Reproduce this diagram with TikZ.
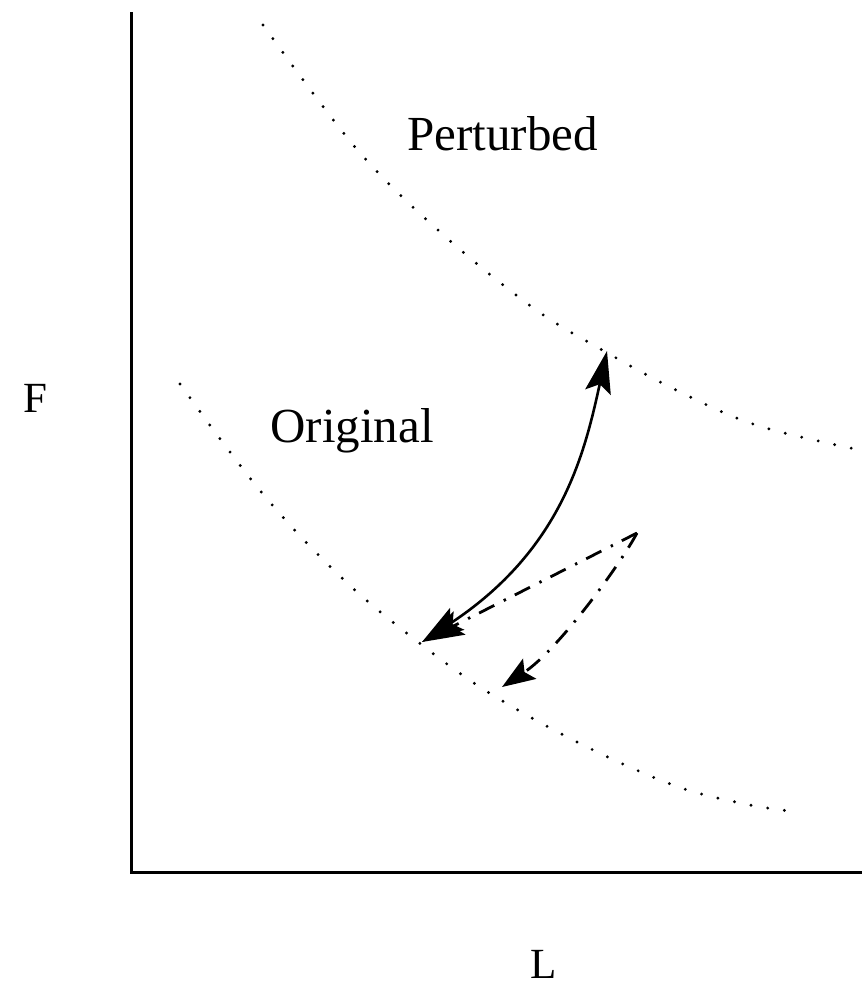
\documentclass[tikz,border=0pt]{standalone}
\usepackage{fontspec}
\setmainfont{Liberation Serif}
\usetikzlibrary{arrows.meta}
\tikzset{
  axisline/.style={line width=1.5pt, line join=miter},
  curvedots/.style={line width=1.6pt, line cap=round, dash pattern=on 0pt off 8.45pt},
  solidarrow/.style={line width=1.3pt},
  dashdotline/.style={line width=1.4pt, dash pattern=on 8.5pt off 5pt on 1.2pt off 5.3pt},
  bighead/.tip={Stealth[length=21pt, width=13pt, inset=4pt]},
  smallhead/.tip={Stealth[length=16.5pt, width=12pt, inset=3pt]},
  axislabel/.style={inner sep=0pt, anchor=base, font=\fontsize{21.5}{26}\selectfont},
  curvelabel/.style={inner sep=0pt, anchor=base west, font=\fontsize{24.5}{29}\selectfont}
}
\begin{document}
\begin{tikzpicture}[x=0.5pt, y=-0.5pt]
\useasboundingbox (0,0) rectangle (862,985);
% axes
\coordinate (ytop) at (131.5,12);
\coordinate (origin) at (131.5,872.5);
\coordinate (xend) at (862,872.5);
\draw[axisline] (ytop) -- (origin) -- (xend);
% labels
\node[axislabel] (F) at (35.5,412) {F};
\node[axislabel] (L) at (544,978) {L};
\node[curvelabel] (pert) at (407,150) {Perturbed};
\node[curvelabel] (orig) at (270,442) {Original};
% dotted curves
\draw[curvedots] plot[smooth, tension=0.6] coordinates
  {(263,25) (355,147) (439,231) (532,307) (604,351) (678,391) (756,425) (855,449)};
\draw[curvedots] plot[smooth, tension=0.6] coordinates
  {(180,384) (262,493) (344,580) (422,645) (491,694) (581,744) (673,785) (740,803) (789,811)};
% arrow points
\coordinate (ptop) at (607,351);
\coordinate (pbot) at (422,642);
\coordinate (pstart) at (637,533);
\coordinate (pend) at (502,687);
% solid double arrow
\draw[solidarrow, {bighead}-{bighead}] (pbot) .. controls (562,550) and (584.5,453.5) .. (ptop);
% dash-dot arrows
\draw[dashdotline, -{bighead}] (pstart) -- (pbot);
\draw[dashdotline, -{smallhead}] (pstart) .. controls (620,565) and (558,650) .. (pend);
\end{tikzpicture}
\end{document}
